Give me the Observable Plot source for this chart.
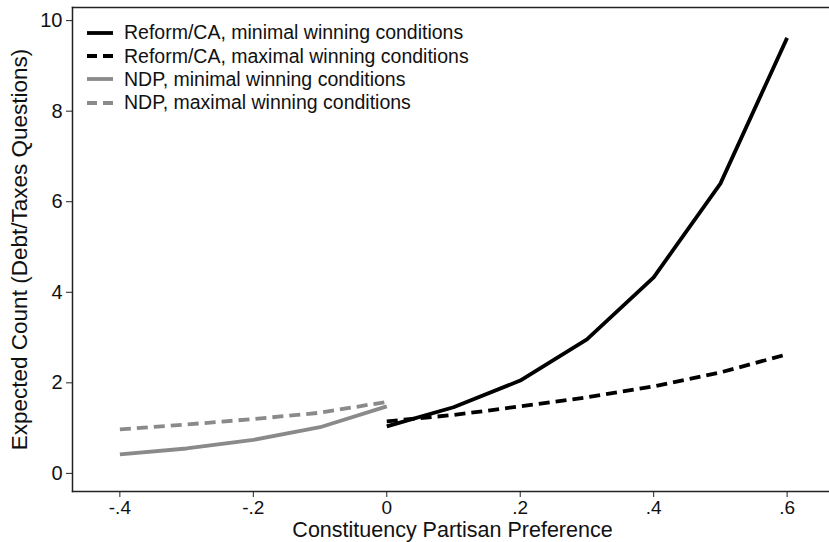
<!DOCTYPE html>
<html>
<head>
<meta charset="utf-8">
<script src="https://cdn.jsdelivr.net/npm/d3@7"></script>
<script src="https://cdn.jsdelivr.net/npm/@observablehq/plot@0.6"></script>
<style>
  html, body { margin: 0; padding: 0; background: #fff; overflow: hidden; }
  #wrap { position: relative; width: 829px; height: 542px; overflow: hidden; }
  #wrap svg.plot { max-width: none !important; }
  #legend { position: absolute; left: 86px; top: 21px; font-family: "Liberation Sans", Arial, Helvetica, sans-serif; font-size: 19.5px; color: #111; }
  .row { display: flex; align-items: center; height: 23.4px; }
  .row svg { margin-right: 10px; }
</style>
</head>
<body>
<div id="wrap"><div id="legend"></div></div>
<script>
const reformX = [0, 0.1, 0.2, 0.3, 0.4, 0.5, 0.6];
const reformMin = [1.04, 1.46, 2.05, 2.96, 4.33, 6.40, 9.62];
const reformMax = [1.15, 1.29, 1.48, 1.68, 1.92, 2.23, 2.63];
const ndpX = [-0.4, -0.3, -0.2, -0.1, 0];
const ndpMin = [0.42, 0.55, 0.74, 1.02, 1.48];
const ndpMax = [0.97, 1.08, 1.20, 1.34, 1.58];
const xTicks = [-0.4, -0.2, 0, 0.2, 0.4, 0.6];
const yTicks = [0, 2, 4, 6, 8, 10];
const seriesNames = [
  "Reform/CA, minimal winning conditions",
  "Reform/CA, maximal winning conditions",
  "NDP, minimal winning conditions",
  "NDP, maximal winning conditions"
];
const seriesColors = ["#000000", "#000000", "#8a8a8a", "#8a8a8a"];
const seriesDash = [null, "11,6", null, "11,6"];
const xTitle = "Constituency Partisan Preference";
const yTitle = "Expected Count (Debt/Taxes Questions)";

const data = [];
reformX.forEach((x, i) => data.push({series: seriesNames[0], x, y: reformMin[i]}));
reformX.forEach((x, i) => data.push({series: seriesNames[1], x, y: reformMax[i]}));
ndpX.forEach((x, i) => data.push({series: seriesNames[2], x, y: ndpMin[i]}));
ndpX.forEach((x, i) => data.push({series: seriesNames[3], x, y: ndpMax[i]}));

const fmt = d => d === 0 ? "0" : String(d).replace("0.", ".");
const font = "'Liberation Sans', Arial, Helvetica, sans-serif";

const marks = [];
seriesNames.forEach((s, i) => {
  marks.push(Plot.line(data.filter(d => d.series === s), {
    x: "x", y: "y", stroke: seriesColors[i], strokeWidth: 3.8,
    strokeDasharray: seriesDash[i], strokeLinejoin: "round", strokeLinecap: "butt"
  }));
});

const chart = Plot.plot({
  width: 844,
  height: 542,
  marginLeft: 72,
  marginTop: 7,
  marginRight: 0,
  marginBottom: 51,
  style: {fontFamily: font, background: "#fff", color: "#111", maxWidth: "none"},
  x: {domain: [-0.471, 0.686]},
  y: {domain: [-0.4, 10.29]},
  marks: [
    Plot.frame({anchor: "top", stroke: "#222", strokeWidth: 1.5}),
    Plot.frame({anchor: "left", stroke: "#222", strokeWidth: 1.5}),
    Plot.frame({anchor: "bottom", stroke: "#222", strokeWidth: 1.5}),
    Plot.axisX({ticks: xTicks, tickFormat: fmt, tickSize: 6, tickPadding: 3, fontSize: 19, label: null, stroke: "#222"}),
    Plot.axisY({ticks: yTicks, tickFormat: fmt, tickSize: 6, tickPadding: 4, fontSize: 20, label: null, stroke: "#222"}),
    Plot.text([xTitle], {frameAnchor: "bottom", dy: 39, dx: -6, fontSize: 21.5, fill: "#111", lineAnchor: "middle"}),
    Plot.text([yTitle], {frameAnchor: "left", rotate: -90, dx: -53, dy: 0, fontSize: 22.5, fill: "#111", textAnchor: "middle", lineAnchor: "middle"}),
    ...marks
  ]
});
document.getElementById("wrap").prepend(chart);

const legend = d3.select("#legend");
seriesNames.forEach((s, i) => {
  const row = legend.append("div").attr("class", "row");
  const svg = row.append("svg").attr("width", 28).attr("height", 10);
  svg.append("line").attr("x1", 1).attr("x2", 27).attr("y1", 5).attr("y2", 5)
    .attr("stroke", seriesColors[i]).attr("stroke-width", 3.8)
    .attr("stroke-dasharray", seriesDash[i] ? "10,6" : null);
  row.append("span").text(s);
});
</script>
</body>
</html>
